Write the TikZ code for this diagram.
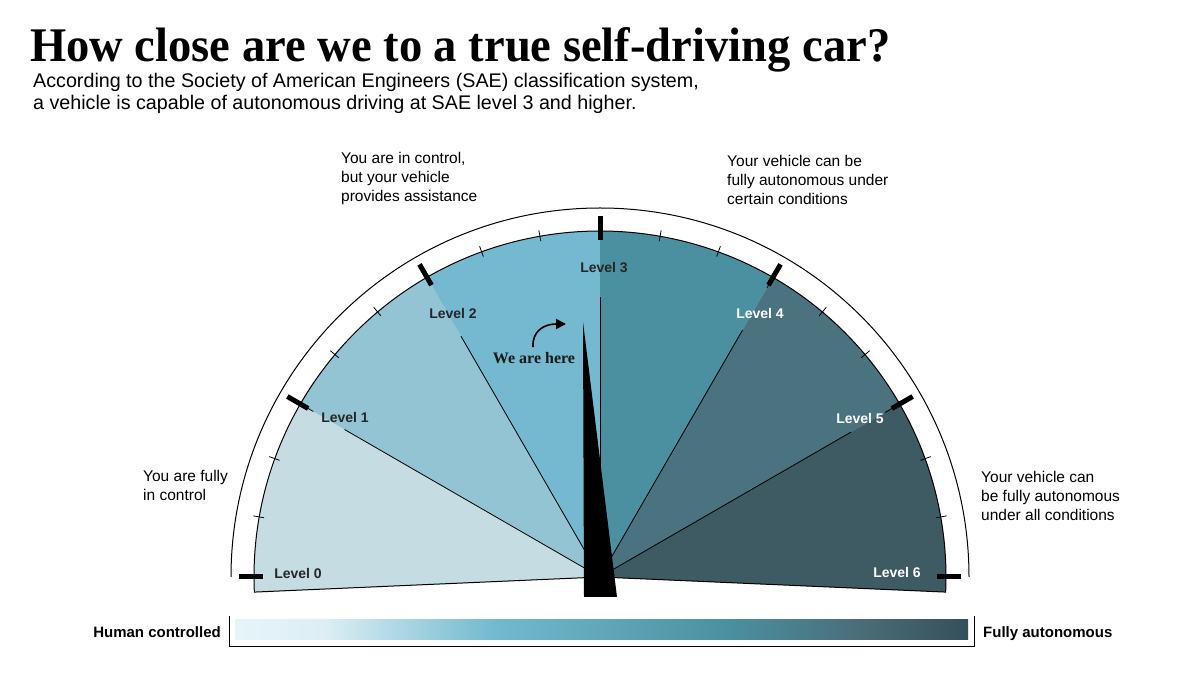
\documentclass[tikz,border=0pt]{standalone}
\usepackage{fontspec}
\setmainfont{Liberation Serif}
\setsansfont{Liberation Sans}
\usetikzlibrary{arrows.meta,calc}
\definecolor{sA}{HTML}{C4DCE2}
\definecolor{sB}{HTML}{93C4D3}
\definecolor{sC}{HTML}{74B9CF}
\definecolor{sD}{HTML}{4A90A0}
\definecolor{sE}{HTML}{4A737F}
\definecolor{sF}{HTML}{3E5A62}
\definecolor{gA}{HTML}{E6F4F8}
\definecolor{gB}{HTML}{DDEFF4}
\definecolor{gC}{HTML}{74BACF}
\definecolor{gD}{HTML}{4A8F9F}
\definecolor{gE}{HTML}{4A6E79}
\definecolor{gF}{HTML}{36505A}
\pgfdeclarehorizontalshading{autobar}{100bp}{color(0bp)=(gA); color(25bp)=(gA); color(31bp)=(gB); color(42.5bp)=(gC); color(59bp)=(gD); color(67.5bp)=(gE); color(75bp)=(gF); color(100bp)=(gF)}
\begin{document}
\begin{tikzpicture}[x=1pt,y=1pt,
  subtitle/.style={font=\sffamily\fontsize{19.7}{22}\selectfont, inner sep=0},
  annot/.style={font=\sffamily\fontsize{15.5}{19}\selectfont, align=left, inner sep=0, anchor=west},
  lvl/.style={font=\sffamily\bfseries\fontsize{14}{16}\selectfont, inner sep=0, text=black!85},
  lvlw/.style={lvl, text=white},
  barlabel/.style={font=\sffamily\bfseries\fontsize{15}{18}\selectfont, inner sep=0},
  sectorline/.style={line width=0.8pt, black},
  majortick/.style={line width=5pt, black},
  minortick/.style={line width=0.8pt, black},
  rim/.style={line width=1pt, black},
  weare/.style={line width=1.6pt, -{Triangle[length=10pt,width=10pt]}}
]
\useasboundingbox (0,0) rectangle (1200,675);

% title and subtitle
\node[anchor=base west, inner sep=0] (title) at (30,613)
  {\resizebox{860pt}{34pt}{\bfseries How close are we to a true self-driving car?}};
\node[subtitle, anchor=base west] (sub1) at (33,587)
  {According to the Society of American Engineers (SAE) classification system,};
\node[subtitle, anchor=base west] (sub2) at (33,565)
  {a vehicle is capable of autonomous driving at SAE level 3 and higher.};

% annotations
\node[annot] (n1) at (341,497) {You are in control,\\but your vehicle\\provides assistance};
\node[annot] (n2) at (727,495.5) {Your vehicle can be\\fully autonomous under\\certain conditions};
\node[annot] (n3) at (143,189.5) {You are fully\\in control};
\node[annot] (n4) at (981,179.5) {Your vehicle can\\be fully autonomous\\under all conditions};

% gauge
\begin{scope}[shift={(600,98)}]
  \coordinate (C) at (0,0);
  \fill[sA] (C) -- (182.5:346) arc[start angle=182.5, end angle=150, radius=346] -- cycle;
  \fill[sB] (C) -- (150:346) arc[start angle=150, end angle=120, radius=346] -- cycle;
  \fill[sC] (C) -- (120:346) arc[start angle=120, end angle=90, radius=346] -- cycle;
  \fill[sD] (C) -- (90:346) arc[start angle=90, end angle=60, radius=346] -- cycle;
  \fill[sE] (C) -- (60:346) arc[start angle=60, end angle=30, radius=346] -- cycle;
  \fill[sF] (C) -- (30:346) arc[start angle=30, end angle=-2.5, radius=346] -- cycle;
  % outline
  \draw[rim] (C) -- (182.5:346) arc[start angle=182.5, end angle=-2.5, radius=346] -- (C);
  \draw[rim] (180:369) arc[start angle=180, end angle=0, radius=369];
  % sector boundary lines
  \draw[sectorline] (C) -- (150:295);
  \draw[sectorline] (C) -- (120:278);
  \draw[sectorline] (C) -- (90:280);
  \draw[sectorline] (C) -- (60:285);
  \draw[sectorline] (C) -- (30:290);
  \draw[sectorline] (150:331) -- (150:346);
  \draw[sectorline] (60:334) -- (60:346);
  \draw[sectorline] (30:329) -- (30:346);
  % ticks
  \foreach \a in {0,30,...,180} \draw[majortick] (\a:337) -- (\a:361);
  \foreach \a in {10,20,40,50,70,80,100,110,130,140,160,170} \draw[minortick] (\a:341) -- (\a:352);
\end{scope}

% level labels
\node[lvl] (l0) at (298,102) {Level 0};
\node[lvl] (l1) at (345,258) {Level 1};
\node[lvl] (l2) at (453,361) {Level 2};
\node[lvl] (l3) at (604,407) {Level 3};
\node[lvlw] (l4) at (760,361) {Level 4};
\node[lvlw] (l5) at (860,257) {Level 5};
\node[lvlw] (l6) at (897,103) {Level 6};

% we are here
\node[font=\bfseries\fontsize{16}{18}\selectfont, inner sep=0, text=black!90] (here) at (534,317) {We are here};
\coordinate (arrowtip) at (566,351);
\draw[weare] ([xshift=-1pt,yshift=5pt]here.north) .. controls (532,344) and (544,351) .. (arrowtip);

% needle
\coordinate (ntip) at (583,353);
\coordinate (nbl) at (584,78);
\coordinate (nbr) at (617,78);
\fill[black] (ntip) -- (nbl) -- (nbr) -- cycle;

% bottom bar
\shade[shading=autobar] (235,35) rectangle (968,55);
\coordinate (bkA) at (229,59);
\coordinate (bkB) at (229,28);
\coordinate (bkC) at (974,28);
\coordinate (bkD) at (974,59);
\draw[line width=1pt] (bkA) -- (bkB) -- (bkC) -- (bkD);
\node[barlabel, anchor=base east] (hc) at (221,37.5) {Human controlled};
\node[barlabel, anchor=base west] (fa) at (983,37.5) {Fully autonomous};
\end{tikzpicture}
\end{document}
